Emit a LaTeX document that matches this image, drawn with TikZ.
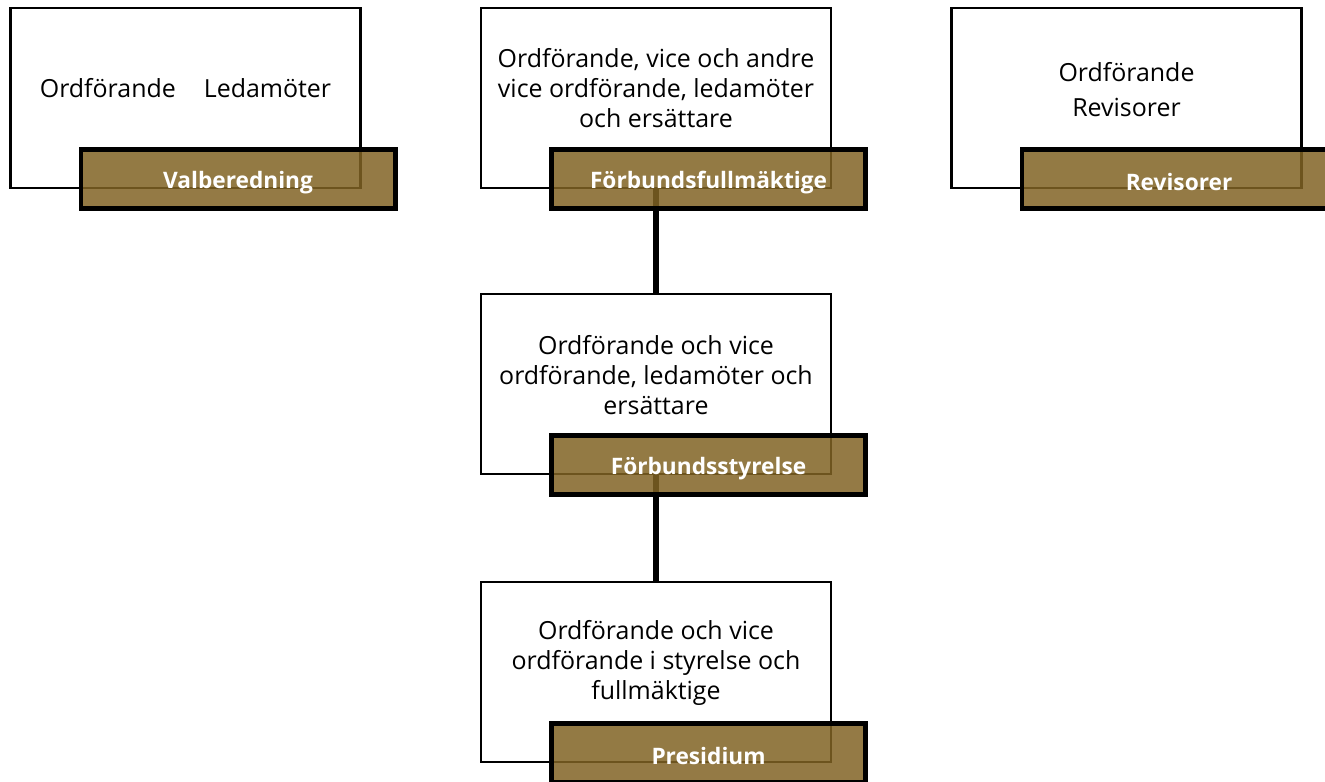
\documentclass[tikz,border=0pt]{standalone}
\usepackage{fontspec}
\setmainfont{Open Sans}
\definecolor{brownfill}{RGB}{129,99,36}
\begin{document}
\begin{tikzpicture}[x=0.75pt,y=-0.75pt,
  whitebox/.style={draw=black, line width=1.6pt, fill=white, minimum width=262.5pt, minimum height=135pt, inner sep=0pt},
  labelbox/.style={draw=black, line width=3.5pt, fill=brownfill, fill opacity=0.85, minimum width=235.7pt, minimum height=44.5pt, inner sep=0pt,
    label={[yshift=-2.6pt, inner sep=0pt, text=white, text opacity=1, font=\fontsize{17}{20}\selectfont\bfseries]center:#1}},
  bodytext/.style={align=center, font=\fontsize{18.7}{22.5}\selectfont, inner sep=0pt},
  conn/.style={line width=3.9pt}]
\useasboundingbox (0,0) rectangle (1325,782);
% white boxes
\node[whitebox] (w1) at (185.5,98) {};
\node[whitebox] (w2) at (656,98) {};
\node[whitebox] (w3) at (1126.5,98) {};
\node[whitebox] (w4) at (656,384) {};
\node[whitebox] (w5) at (656,672) {};
% body texts
\node[bodytext] (t1) at ([yshift=7.5pt]w1.center) {Ordförande\hspace{21pt}Ledamöter};
\node[bodytext] (t2) at ([yshift=7.5pt]w2.center) {Ordförande, vice och andre\\vice ordförande, ledamöter\\och ersättare};
\node[bodytext] (t3) at ([yshift=6.4pt]w3.center) {Ordförande\\[3.75pt]Revisorer};
\node[bodytext] (t4) at ([yshift=7pt]w4.center) {Ordförande och vice\\ordförande, ledamöter och\\ersättare};
\node[bodytext] (t5) at ([yshift=7pt]w5.center) {Ordförande och vice\\ordförande i styrelse och\\fullmäktige};
% connectors
\draw[conn] (w2.south) -- (w4.north);
\draw[conn] (w4.south) -- (w5.north);
% label boxes
\node[labelbox=Valberedning] (l1) at ([shift={(39.4pt,-60.75pt)}]w1.center) {};
\node[labelbox=Förbundsfullmäktige] (l2) at ([shift={(39.4pt,-60.75pt)}]w2.center) {};
\node[labelbox=Revisorer] (l3) at ([shift={(39.4pt,-60.75pt)}]w3.center) {};
\node[labelbox=Förbundsstyrelse] (l4) at ([shift={(39.4pt,-60.75pt)}]w4.center) {};
\node[labelbox=Presidium] (l5) at ([shift={(39.4pt,-60.75pt)}]w5.center) {};
\end{tikzpicture}
\end{document}
